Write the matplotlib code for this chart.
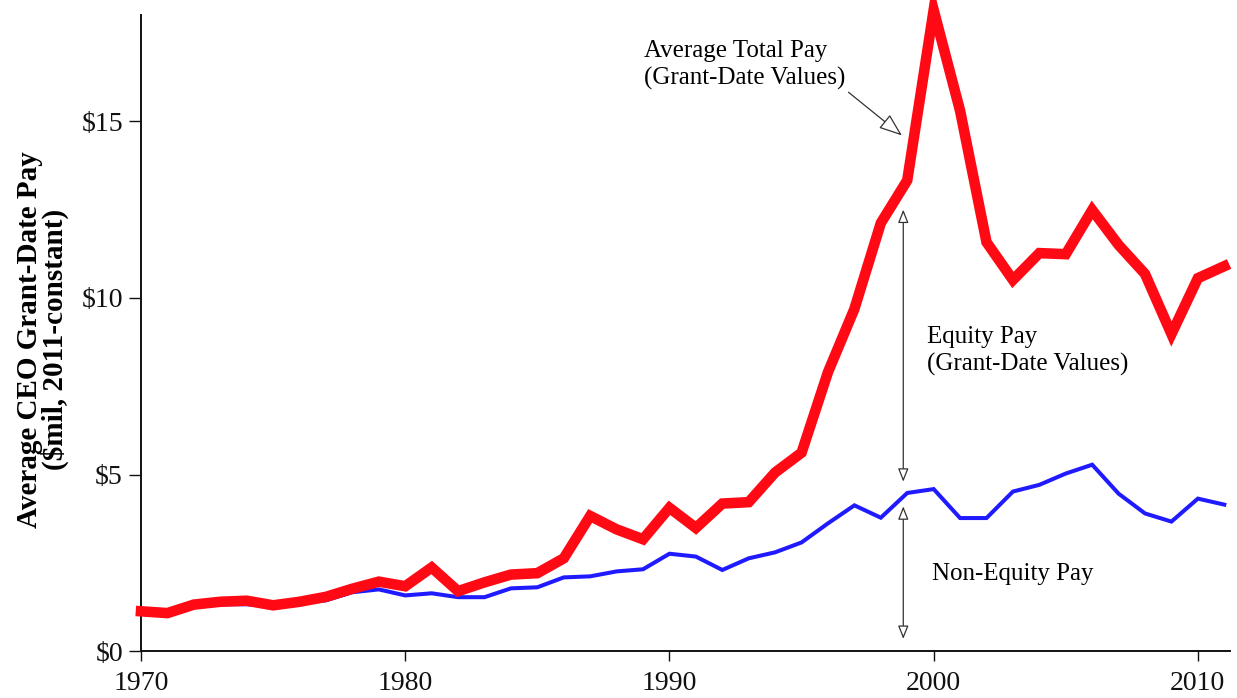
import numpy as np
import matplotlib
matplotlib.use('Agg')
import matplotlib.pyplot as plt

plt.rcParams['font.family'] = ['Liberation Serif', 'DejaVu Serif']

# ------------------------------------------------------------------
# data ($mil, 2011-constant)
# ------------------------------------------------------------------
years = list(range(1970, 2012))

total_pay = [1.13, 1.08, 1.32, 1.40, 1.43, 1.30, 1.40, 1.54, 1.77, 1.97,
             1.84, 2.37, 1.70, 1.95, 2.17, 2.21, 2.63, 3.83, 3.45, 3.17,
             4.06, 3.49, 4.18, 4.22, 5.06, 5.62, 7.90, 9.69, 12.12, 13.33,
             18.15, 15.30, 11.58, 10.51, 11.27, 11.24, 12.49, 11.50, 10.68, 8.98,
             10.56, 10.90]

non_equity_pay = [1.13, 1.10, 1.30, 1.33, 1.33, 1.27, 1.36, 1.44, 1.67, 1.75,
                  1.58, 1.64, 1.53, 1.53, 1.78, 1.81, 2.09, 2.12, 2.26, 2.32,
                  2.76, 2.68, 2.30, 2.63, 2.80, 3.08, 3.62, 4.13, 3.78, 4.48,
                  4.59, 3.77, 3.77, 4.52, 4.71, 5.03, 5.28, 4.46, 3.90, 3.67,
                  4.32, 4.15]

y_ticks = [0, 5, 10, 15]
y_tick_labels = ['$0', '$5', '$10', '$15']
x_ticks = [1970, 1980, 1990, 2000, 2010]

# ------------------------------------------------------------------
# figure
# ------------------------------------------------------------------
fig = plt.figure(figsize=(12.37, 6.98), dpi=100)
ax = fig.add_axes([0.114, 0.067, 0.880, 0.911])

ax.plot(years, non_equity_pay, color='#1f1aff', lw=2.9, solid_joinstyle='miter', zorder=3)
ax.plot(years, total_pay, color='#ff0a14', lw=7.6, solid_joinstyle='miter', zorder=4,
        clip_on=False)

ax.set_xlim(1970, 2011.2)
ax.set_ylim(0, 18.0)

ax.set_xticks(x_ticks)
ax.set_xticklabels([str(x) for x in x_ticks])
ax.set_yticks(y_ticks)
ax.set_yticklabels(y_tick_labels)
ax.tick_params(axis='both', direction='out', labelsize=20, width=1.0, colors='#111111')
ax.tick_params(axis='y', length=9, pad=4)
ax.tick_params(axis='x', length=7, pad=7)

for side in ['top', 'right']:
    ax.spines[side].set_visible(False)
for side in ['left', 'bottom']:
    ax.spines[side].set_linewidth(1.4)
    ax.spines[side].set_color('#111111')

ax.set_ylabel('Average CEO Grant-Date Pay\n($mil, 2011-constant)',
              fontsize=21, fontweight='bold', linespacing=0.9)
ax.yaxis.set_label_coords(-0.066, 0.49)

# annotations
arrow_kw = dict(arrowstyle='<|-|>,head_length=0.8,head_width=0.32',
                fc='white', ec='#333333', lw=0.9, shrinkA=0, shrinkB=0)
ax.annotate('', xy=(1998.85, 0.35), xytext=(1998.85, 4.1), arrowprops=arrow_kw)
ax.annotate('', xy=(1998.85, 4.8), xytext=(1998.85, 12.5), arrowprops=arrow_kw)

ax.annotate('Average Total Pay\n(Grant-Date Values)',
            xy=(1998.8, 14.6), xytext=(1989.05, 16.6),
            fontsize=18, ha='left', va='center', linespacing=1.3,
            arrowprops=dict(arrowstyle='-|>,head_length=0.8,head_width=0.3',
                            fc='white', ec='#333333', lw=0.9,
                            shrinkA=0, shrinkB=0,
                            relpos=(1.0, 0.0)))

ax.text(1999.75, 8.5, 'Equity Pay\n(Grant-Date Values)', fontsize=18,
        ha='left', va='center', linespacing=1.3)
ax.text(1999.95, 2.2, 'Non-Equity Pay', fontsize=18, ha='left', va='center')

plt.savefig('out.png', dpi=100)
plt.close()
